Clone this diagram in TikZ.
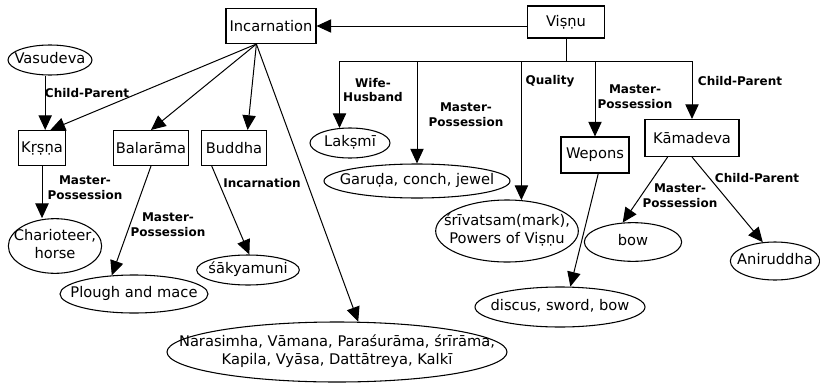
\documentclass[tikz,border=0pt]{standalone}
\usepackage{fontspec}
\setmainfont{DejaVu Sans}
\usetikzlibrary{shapes.geometric,arrows.meta}
\newcommand{\inoval}[1]{\makebox[0pt]{\begin{tabular}{@{}c@{}}#1\end{tabular}}}

\begin{document}
\begin{tikzpicture}[x=0.75pt,y=-0.75pt,
  box/.style={draw,line width=0.8pt,inner xsep=2pt,font=\fontsize{11}{13}\selectfont},
  oval/.style={ellipse,draw,line width=0.8pt,inner sep=0pt,font=\fontsize{11}{13}\selectfont},
  rel/.style={font=\fontsize{9}{11}\selectfont\bfseries,align=center,inner sep=0pt},
  link/.style={line width=0.75pt,-{Triangle[length=11pt,width=10pt]}}]
\useasboundingbox (0,0) rectangle (820,382);

% boxes
\node[box,minimum width=57.75pt,minimum height=24pt] (Visnu) at (566,22) {Viṣṇu};
\node[box,minimum width=67.5pt,minimum height=26.25pt] (Incarnation) at (271,26) {Incarnation};
\node[box,minimum width=33.75pt,minimum height=26.25pt] (Krsna) at (42,148) {Kṛṣṇa};
\node[box,minimum width=54.75pt,minimum height=26.25pt] (Balarama) at (151,148) {Balarāma};
\node[box,minimum width=48.75pt,minimum height=26.25pt] (Buddha) at (234,148) {Buddha};
\node[box,minimum width=51pt,minimum height=27pt] (Wepons) at (595,155) {Wepons};
\node[box,minimum width=70.5pt,minimum height=27.75pt] (Kamadeva) at (692,138) {Kāmadeva};

% ovals
\node[oval,minimum width=63pt,minimum height=22.5pt] (Vasudeva) at (50,60) {\inoval{Vasudeva}};
\node[oval,minimum width=60pt,minimum height=22.5pt] (Lakshmi) at (350,143) {\inoval{Lakṣmī}};
\node[oval,minimum width=139.5pt,minimum height=25.5pt] (Garuda) at (417,181) {\inoval{Garuḍa, conch, jewel}};
\node[oval,minimum width=107pt,minimum height=46.5pt] (Srivatsa) at (507,231) {\inoval{śrīvatsam(mark),\\Powers of Viṣṇu}};
\node[oval,minimum width=70pt,minimum height=41pt] (Chariot) at (55,246) {\inoval{Charioteer,\\horse}};
\node[oval,minimum width=111pt,minimum height=28.5pt] (Plough) at (134,294) {\inoval{Plough and mace}};
\node[oval,minimum width=77pt,minimum height=22.5pt] (Sakya) at (248,270) {\inoval{śākyamuni}};
\node[oval,minimum width=255pt,minimum height=45pt] (Avatars) at (337,352) {\inoval{Narasimha, Vāmana, Paraśurāma, śrīrāma,\\Kapila, Vyāsa, Dattātreya, Kalkī}};
\node[oval,minimum width=73pt,minimum height=29pt] (Bow) at (633,242) {\inoval{bow}};
\node[oval,minimum width=67pt,minimum height=28.5pt] (Aniruddha) at (775,261) {\inoval{Aniruddha}};
\node[oval,minimum width=127.5pt,minimum height=30pt] (Discus) at (560,307) {\inoval{discus, sword, bow}};

% links from Visnu
\coordinate (bus) at (566,61);
\draw[link] (Visnu.west |- Incarnation.east) -- (Incarnation.east);
\draw[link] (Visnu.south) |- (bus -| Lakshmi.125) -- (Lakshmi.125);
\draw[link] (Visnu.south) |- (bus -| Garuda.north) -- (Garuda.north);
\draw[link] (Visnu.south) |- (bus -| Srivatsa.65) -- (Srivatsa.65);
\draw[link] (Visnu.south) |- (bus -| Wepons.north) -- (Wepons.north);
\draw[link] (Visnu.south) |- (bus -| Kamadeva.north) -- (Kamadeva.north);

% links from Incarnation
\draw[link] (Incarnation.-129) -- (Krsna.65);
\draw[link] (Incarnation.-129) -- (Balarama.north);
\draw[link] (Incarnation.-129) -- (Buddha.53);
\draw[link] (Incarnation.-129) -- (Avatars.55);

% the rest
\draw[link] (Vasudeva.south -| Krsna.80) -- (Krsna.80);
\draw[link] (Krsna.south) -- (Krsna.south |- Chariot.north);
\draw[link] (Balarama.south) -- (Plough.140);
\draw[link] (Buddha.-141) -- (Sakya.85);
\draw[link] (Wepons.-80) -- (Discus.63);
\draw[link] (Kamadeva.-142) -- (Bow.118);
\draw[link] (Kamadeva.south) -- (Aniruddha.123);

% relation labels
\node[rel] (lWife) at (373,90) {Wife-\\Husband};
\node[rel] (lGaruda) at (466,115) {Master-\\Possession};
\node[rel] (lQuality) at (550,81) {Quality};
\node[rel] (lWepons) at (635,97) {Master-\\Possession};
\node[rel] (lKama) at (740,81) {Child-Parent};
\node[rel] (lVasu) at (87,93) {Child-Parent};
\node[rel] (lKrsna) at (85,188) {Master-\\Possession};
\node[rel] (lBala) at (168,225) {Master-\\Possession};
\node[rel] (lBuddha) at (262,183) {Incarnation};
\node[rel] (lBow) at (680,196) {Master-\\Possession};
\node[rel] (lAni) at (757,178) {Child-Parent};

\end{tikzpicture}
\end{document}
